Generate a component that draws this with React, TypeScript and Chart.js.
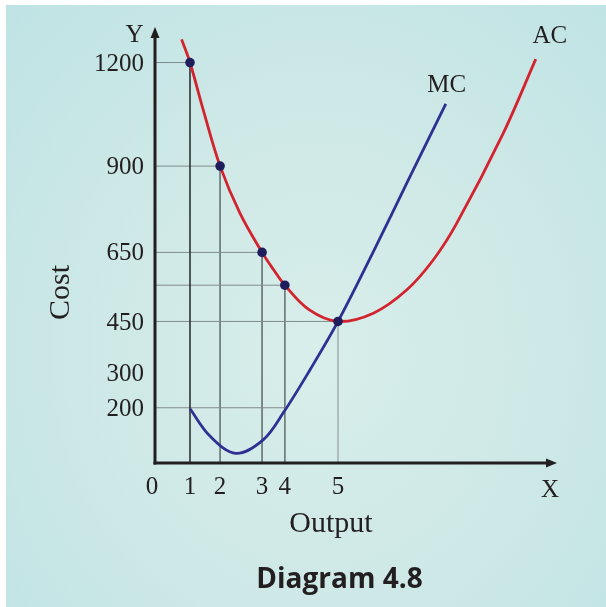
import React, { useEffect, useRef } from "react";
import { Chart, registerables } from "chart.js";

Chart.register(...registerables);

// ---- data ----
const outputTicks = ["0", "1", "2", "3", "4", "5"];
const outputPos = [0, 1, 1.86, 3.06, 3.71, 5.23];
const costTicks = [200, 300, 450, 650, 900, 1200];

// marked AC points at output 1..5
const dotCost = [1200, 900, 650, 555, 450];

// Average cost curve
const acX = [0.76, 1, 1.38, 1.86, 2.43, 3.06, 3.38, 3.71, 4.4, 5.23, 6.24, 7.19, 7.95, 8.62, 9.95, 10.88];
const acY = [1267, 1200, 1062, 900, 763, 650, 601, 555, 484, 450, 474, 541, 628, 734, 995, 1210];

// Marginal cost curve
const mcX = [1, 1.57, 2.31, 3.09, 3.67, 4.43, 5.23, 6.24, 7.24, 8.31];
const mcY = [197, 118, 68, 107, 186, 310, 450, 652, 860, 1080];

// extra guide: 200 level runs to output 4
const guide200 = { cost: 200, toIndex: 4 };

const X_MIN = 0;
const X_MAX = 11.43;
const Y_MIN = 40;
const Y_MAX = 1300;

const SERIF = '"Liberation Serif", "Times New Roman", serif';
const INK = "#231f20";

const overlay = {
  id: "overlay",
  afterDatasetsDraw(chart: any) {
    const { ctx, chartArea: a, scales } = chart;
    const x = scales.x;
    const y = scales.y;
    const ox = x.getPixelForValue(0);
    const oy = y.getPixelForValue(Y_MIN);
    ctx.save();
    // axes
    ctx.strokeStyle = INK;
    ctx.fillStyle = INK;
    ctx.lineWidth = 3;
    ctx.beginPath();
    ctx.moveTo(ox, oy + 1.5);
    ctx.lineTo(ox, a.top + 9);
    ctx.stroke();
    ctx.beginPath();
    ctx.moveTo(ox - 1.5, oy);
    ctx.lineTo(a.right - 7, oy);
    ctx.stroke();
    // arrow heads
    ctx.beginPath();
    ctx.moveTo(ox, a.top - 1);
    ctx.lineTo(ox - 4.5, a.top + 10);
    ctx.lineTo(ox + 4.5, a.top + 10);
    ctx.closePath();
    ctx.fill();
    ctx.beginPath();
    ctx.moveTo(a.right + 2, oy);
    ctx.lineTo(a.right - 9, oy - 4.5);
    ctx.lineTo(a.right - 9, oy + 4.5);
    ctx.closePath();
    ctx.fill();

    // y tick labels
    ctx.font = `25px ${SERIF}`;
    ctx.textAlign = "right";
    ctx.textBaseline = "middle";
    costTicks.forEach((v) => ctx.fillText(String(v), ox - 11, y.getPixelForValue(v) + 1.5));

    // x tick labels
    ctx.textAlign = "center";
    ctx.textBaseline = "alphabetic";
    outputTicks.forEach((t, i) =>
      ctx.fillText(t, x.getPixelForValue(outputPos[i]) - (i === 0 ? 3 : 0), oy + 30.5)
    );

    // axis letters
    ctx.fillText("Y", ox - 20.5, a.top + 14);
    ctx.fillText("X", a.right - 5, oy + 34);

    // curve labels
    const acEndX = x.getPixelForValue(acX[acX.length - 1]);
    const acEndY = y.getPixelForValue(acY[acY.length - 1]);
    ctx.fillText("AC", acEndX + 14, acEndY - 16);
    const mcEndX = x.getPixelForValue(mcX[mcX.length - 1]);
    const mcEndY = y.getPixelForValue(mcY[mcY.length - 1]);
    ctx.fillText("MC", mcEndX + 1, mcEndY - 12);

    // axis titles
    ctx.font = `30px ${SERIF}`;
    ctx.fillText("Output", (ox + a.right) / 2 - 24, oy + 69);
    ctx.save();
    ctx.translate(69, (a.top + oy) / 2 + 47);
    ctx.rotate(-Math.PI / 2);
    ctx.fillText("Cost", 0, 0);
    ctx.restore();

    // caption
    ctx.font = 'bold 28px "Open Sans", "Noto Sans", sans-serif';
    ctx.fillText("Diagram 4.8", 339.5, 588);
    ctx.restore();
  },
};

export default function App() {
  const ref = useRef<HTMLCanvasElement>(null);

  useEffect(() => {
    if (!ref.current) return;
    const pts = (xs: number[], ys: number[]) => xs.map((v, i) => ({ x: v, y: ys[i] }));
    const dotX = outputPos.slice(1);

    const hGuides: any[] = [];
    dotCost.forEach((c, i) => {
      hGuides.push({ x: 0, y: c }, { x: dotX[i], y: c }, { x: dotX[i], y: null });
    });
    hGuides.push(
      { x: 0, y: guide200.cost },
      { x: outputPos[guide200.toIndex], y: guide200.cost }
    );

    const vGuides: any[] = [];
    [1, 2, 3].forEach((i) => {
      vGuides.push({ x: dotX[i], y: dotCost[i] }, { x: dotX[i], y: Y_MIN }, { x: dotX[i] + 0.0001, y: null });
    });

    const chart = new Chart(ref.current, {
      type: "line",
      data: {
        datasets: [
          {
            label: "points",
            data: pts(dotX, dotCost),
            showLine: false,
            pointRadius: 4.8,
            pointBackgroundColor: "#1f1d5c",
            pointBorderWidth: 0,
            order: 0,
          },
          {
            label: "AC",
            data: pts(acX, acY),
            borderColor: "#d2232f",
            borderWidth: 2.8,
            pointRadius: 0,
            tension: 0.35,
            order: 1,
          },
          {
            label: "MC",
            data: pts(mcX, mcY),
            borderColor: "#2e3192",
            borderWidth: 2.8,
            pointRadius: 0,
            tension: 0.35,
            order: 1,
          },
          {
            label: "hGuides",
            data: hGuides,
            borderColor: "#7f8c8c",
            borderWidth: 1,
            pointRadius: 0,
            spanGaps: false,
            order: 3,
          },
          {
            label: "vGuides",
            data: vGuides,
            borderColor: "#6f7b7b",
            borderWidth: 1,
            pointRadius: 0,
            spanGaps: false,
            order: 3,
          },
          {
            label: "v1",
            data: [
              { x: dotX[0], y: dotCost[0] },
              { x: dotX[0], y: Y_MIN },
            ],
            borderColor: "#1a1a1a",
            borderWidth: 1.4,
            pointRadius: 0,
            order: 2,
          },
          {
            label: "v5",
            data: [
              { x: dotX[4], y: dotCost[4] },
              { x: dotX[4], y: Y_MIN },
            ],
            borderColor: "#a9b7b5",
            borderWidth: 1,
            pointRadius: 0,
            order: 3,
          },
        ],
      },
      options: {
        responsive: false,
        animation: false,
        layout: { padding: { left: 155, right: 51, top: 28, bottom: 144 } },
        scales: {
          x: { type: "linear", min: X_MIN, max: X_MAX, display: false },
          y: { type: "linear", min: Y_MIN, max: Y_MAX, display: false },
        },
        plugins: { legend: { display: false }, tooltip: { enabled: false }, title: { display: false } },
        elements: { line: { fill: false } },
      },
      plugins: [overlay],
    });
    return () => chart.destroy();
  }, []);

  return (
    <div style={{ position: "fixed", left: 0, top: 0, width: 606, height: 607, background: "#ffffff", overflow: "hidden" }}>
      <div
        style={{
          position: "absolute",
          left: 6,
          top: 5,
          right: 0,
          bottom: 0,
          background: "radial-gradient(ellipse at 52% 58%, #d8eeea 0%, #cfe9e7 45%, #bfe3e5 100%)",
        }}
      />
      <canvas ref={ref} width={606} height={607} style={{ position: "absolute", left: 0, top: 0, width: 606, height: 607 }} />
    </div>
  );
}
